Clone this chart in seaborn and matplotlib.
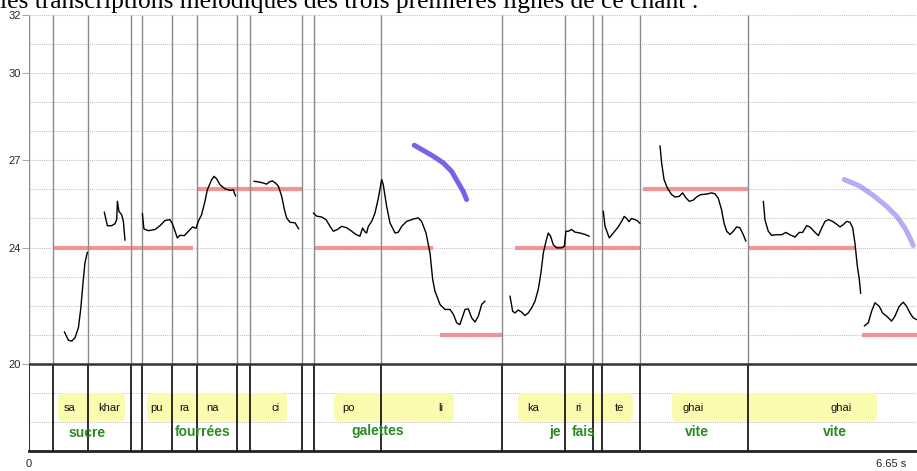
import numpy as np
import pandas as pd
import matplotlib
matplotlib.use("Agg")
import matplotlib.pyplot as plt
from matplotlib.patches import FancyBboxPatch
import seaborn as sns

# ---------------- data ----------------
title_text = "les transcriptions mélodiques des trois premières lignes de ce chant :"

# segment boundaries (s)
boundaries = [0.182, 0.444, 0.762, 0.844, 1.074, 1.256, 1.556, 1.658, 2.045,
              2.137, 2.637, 3.546, 4.015, 4.222, 4.295, 4.577, 5.383]

# target (transcribed) notes: start, end, pitch
target_start = [0.182, 1.258, 2.142, 3.079, 3.640, 4.600, 5.386, 6.240]
target_end   = [1.228, 2.045, 3.026, 3.546, 4.577, 5.386, 6.195, 6.652]
target_pitch = [24, 26, 24, 21, 24, 26, 24, 21]

# pitch contours (time s, pitch semitones)
c1_t = [0.265, 0.295, 0.320, 0.345, 0.370, 0.387, 0.407, 0.419, 0.437]
c1_v = [21.10, 20.81, 20.78, 20.90, 21.24, 21.87, 22.90, 23.47, 23.84]

c2_t = [0.564, 0.587, 0.619, 0.644, 0.657, 0.662, 0.674, 0.694, 0.707, 0.719]
c2_v = [25.22, 24.75, 24.75, 24.82, 24.96, 25.59, 25.24, 25.13, 24.90, 24.25]

c3_t = [0.849, 0.861, 0.894, 0.944, 0.981, 1.019, 1.056, 1.074, 1.094, 1.111,
        1.131, 1.164, 1.194, 1.226, 1.251, 1.268, 1.293, 1.318, 1.336, 1.368,
        1.386, 1.406, 1.431, 1.468, 1.506, 1.531, 1.538, 1.548]
c3_v = [25.17, 24.64, 24.58, 24.62, 24.75, 24.93, 24.96, 24.82, 24.56, 24.33,
        24.42, 24.41, 24.56, 24.71, 24.66, 24.90, 25.13, 25.59, 25.99, 26.33,
        26.45, 26.36, 26.16, 26.02, 25.97, 25.99, 25.88, 25.77]

c4_t = [1.685, 1.718, 1.755, 1.780, 1.805, 1.825, 1.850, 1.868, 1.893, 1.913,
        1.930, 1.955, 1.993, 2.005, 2.020]
c4_v = [26.28, 26.26, 26.22, 26.18, 26.27, 26.29, 26.20, 26.11, 25.76, 25.31,
        25.02, 24.87, 24.85, 24.76, 24.64]

c5_t = [2.130, 2.155, 2.192, 2.225, 2.255, 2.280, 2.310, 2.342, 2.380, 2.417,
        2.449, 2.479, 2.499, 2.517, 2.529, 2.542, 2.567, 2.592, 2.617, 2.642,
        2.654, 2.679, 2.704, 2.742, 2.767, 2.792, 2.829, 2.879, 2.916, 2.941,
        2.974, 3.004, 3.024, 3.041, 3.079, 3.116, 3.154, 3.179, 3.204, 3.228,
        3.266, 3.291, 3.316, 3.341, 3.366, 3.391, 3.416]
c5_v = [25.19, 25.08, 25.05, 24.96, 24.73, 24.56, 24.62, 24.73, 24.68, 24.56,
        24.45, 24.39, 24.67, 24.54, 24.50, 24.73, 24.90, 25.19, 25.70, 26.34,
        26.16, 25.42, 24.85, 24.50, 24.53, 24.73, 24.90, 24.98, 25.02, 24.90,
        24.50, 23.81, 22.90, 22.50, 22.04, 21.87, 21.87, 21.70, 21.41, 21.35,
        21.87, 21.89, 21.58, 21.44, 21.64, 22.04, 22.16]

c6_t = [3.603, 3.623, 3.640, 3.665, 3.690, 3.715, 3.740, 3.765, 3.790, 3.815,
        3.835, 3.853, 3.873, 3.890, 3.907, 3.927, 3.952, 3.990, 4.010, 4.022,
        4.040, 4.065, 4.090, 4.127, 4.165, 4.197]
c6_v = [22.33, 21.81, 21.75, 21.85, 21.78, 21.66, 21.75, 21.92, 22.15, 22.56,
        23.13, 23.82, 24.22, 24.50, 24.39, 24.10, 23.99, 23.99, 24.04, 24.56,
        24.56, 24.62, 24.53, 24.50, 24.45, 24.39]

c7_t = [4.302, 4.315, 4.347, 4.377, 4.414, 4.439, 4.459, 4.477, 4.494, 4.514,
        4.539, 4.557, 4.577]
c7_v = [25.25, 24.73, 24.33, 24.50, 24.71, 24.90, 25.07, 25.00, 24.89, 25.00,
        24.96, 24.92, 24.83]

c8_t = [4.727, 4.739, 4.757, 4.782, 4.814, 4.839, 4.871, 4.896, 4.921, 4.946,
        4.976, 5.001, 5.031, 5.076, 5.113, 5.138, 5.163, 5.188, 5.206, 5.226,
        5.251, 5.276, 5.301, 5.325, 5.350, 5.370]
c8_v = [27.50, 26.91, 26.34, 26.05, 25.82, 25.74, 25.76, 25.88, 25.71, 25.59,
        25.63, 25.74, 25.82, 25.84, 25.88, 25.85, 25.70, 25.30, 24.85, 24.56,
        24.45, 24.56, 24.71, 24.68, 24.45, 24.22]

c9_t = [5.501, 5.513, 5.538, 5.563, 5.596, 5.638, 5.670, 5.700, 5.738, 5.770,
        5.795, 5.825, 5.850, 5.880, 5.913, 5.938, 5.963, 5.988, 6.020, 6.045,
        6.075, 6.100, 6.125, 6.150, 6.170, 6.187, 6.205, 6.220, 6.230]
c9_v = [25.59, 24.96, 24.56, 24.42, 24.44, 24.44, 24.52, 24.44, 24.36, 24.52,
        24.52, 24.75, 24.71, 24.56, 24.41, 24.67, 24.90, 24.96, 24.90, 24.82,
        24.71, 24.79, 24.90, 24.87, 24.68, 24.16, 23.36, 22.90, 22.42]

c10_t = [6.257, 6.287, 6.312, 6.337, 6.369, 6.394, 6.424, 6.462, 6.487, 6.519,
         6.549, 6.574, 6.599, 6.624, 6.649]
c10_v = [21.30, 21.41, 21.81, 22.10, 21.98, 21.75, 21.64, 21.47, 21.64, 21.98,
         22.12, 21.98, 21.75, 21.58, 21.52]

# descending glide annotations (blue arcs)
arc1_t = [2.886, 2.954, 3.029, 3.104, 3.166, 3.216, 3.253, 3.278]
arc1_v = [27.52, 27.34, 27.14, 26.91, 26.62, 26.22, 25.93, 25.65]
arc2_t = [6.107, 6.225, 6.325, 6.424, 6.499, 6.562, 6.599, 6.624]
arc2_v = [26.34, 26.11, 25.79, 25.42, 25.08, 24.67, 24.33, 24.07]

# syllable boxes (start, end) and syllables
box_start = [0.217, 0.884, 2.285, 3.663, 4.816]
box_end   = [0.719, 1.933, 3.184, 4.524, 6.352]
syllables   = ["sa", "khar", "pu", "ra", "na", "ci", "po", "li", "ka", "ri", "te", "ghai", "ghai"]
syllable_t  = [0.307, 0.599, 0.959, 1.161, 1.378, 1.850, 2.390, 3.086, 3.775, 4.112, 4.427, 4.974, 6.082]

# French translations
words   = ["sucre", "fourrées", "galettes", "je", "fais", "vite", "vite"]
words_t = [0.434, 1.303, 2.614, 3.940, 4.157, 5.004, 6.037]
words_y = [17.62, 17.66, 17.70, 17.64, 17.64, 17.64, 17.64]

y_ticks = [20, 24, 27, 30, 32]
t_end = 6.652

# ---------------- build frames ----------------
contours = [(c1_t, c1_v), (c2_t, c2_v), (c3_t, c3_v), (c4_t, c4_v), (c5_t, c5_v),
            (c6_t, c6_v), (c7_t, c7_v), (c8_t, c8_v), (c9_t, c9_v), (c10_t, c10_v)]
rows = []
for i, (tt, vv) in enumerate(contours):
    for a, b in zip(tt, vv):
        rows.append({"seg": i, "t": a, "pitch": b})
df = pd.DataFrame(rows)

arc1 = pd.DataFrame({"t": arc1_t, "pitch": arc1_v})
arc2 = pd.DataFrame({"t": arc2_t, "pitch": arc2_v})

# ---------------- plot ----------------
sns.set_style("white")
plt.rcParams["font.family"] = ["Liberation Sans", "DejaVu Sans"]

W, H = 917, 471
fig = plt.figure(figsize=(W / 100, H / 100), dpi=100)
ax = fig.add_axes([29 / W, 20 / H, (W - 29) / W, 436 / H])
ax.set_xlim(0, t_end)
ax.set_ylim(17, 32)

# horizontal dotted grid
ax.hlines(np.arange(17, 33), 0, t_end, colors="#c2c2c2", linestyles=(0, (1.0, 1.0)),
          linewidth=0.75, zorder=1)

# target notes
ax.hlines(target_pitch, target_start, target_end, colors="#f08484", linewidth=3.0,
          alpha=0.85, zorder=2)

# boundaries
ax.vlines([0] + boundaries, 20, 32, colors="#8a8a8a", linewidth=1.0, zorder=3)
ax.vlines([0] + boundaries, 17, 20, colors="#1a1a1a", linewidth=1.3, zorder=3)
ax.axhline(20, color="#333333", linewidth=1.8, zorder=4)

# syllable boxes
for s, e in zip(box_start, box_end):
    p = FancyBboxPatch((s, 18.0), e - s, 1.0,
                       boxstyle="round,pad=0,rounding_size=0.045",
                       mutation_aspect=133.5 / 29.08,
                       facecolor="#fbfbb0", edgecolor="none", zorder=2)
    ax.add_patch(p)

for s, t in zip(syllables, syllable_t):
    ax.text(t, 18.49, s, ha="center", va="center", fontsize=8, color="#111111", zorder=5)
for w, t, yv in zip(words, words_t, words_y):
    ax.text(t, yv, w, ha="center", va="center", fontsize=10, fontweight="bold",
            color="#2a8a22", zorder=5)

# pitch contours
sns.lineplot(data=df, x="t", y="pitch", units="seg", estimator=None, sort=False,
             color="black", linewidth=1.0, ax=ax, zorder=6, legend=False)
sns.lineplot(data=arc1, x="t", y="pitch", estimator=None, sort=False,
             color="#7563ec", linewidth=3.6, ax=ax, zorder=6, legend=False,
             solid_capstyle="round")
sns.lineplot(data=arc2, x="t", y="pitch", estimator=None, sort=False,
             color="#7b68ee", alpha=0.55, linewidth=3.6, ax=ax, zorder=6, legend=False,
             solid_capstyle="round")

# axes styling
for side in ["top", "right"]:
    ax.spines[side].set_visible(False)
ax.spines["left"].set_visible(False)
ax.spines["bottom"].set_color("#222222")
ax.spines["bottom"].set_linewidth(2.0)

ax.set_yticks(y_ticks)
ax.set_yticklabels([str(v) for v in y_ticks])
ax.tick_params(axis="y", length=5, width=0.8, color="#aaaaaa", labelsize=8,
               pad=1, left=True)
ax.set_xticks([0])
ax.set_xticklabels(["0"])
ax.tick_params(axis="x", length=0, labelsize=8, pad=6)
ax.set_xlabel("")
ax.set_ylabel("")

fig.text(876 / W, 1 - 464 / H, "6.65 s", ha="left", va="center", fontsize=8)

# cut-off text line above the chart
fig.text(0.0, 1 - 8 / H, title_text, family=["Liberation Serif", "DejaVu Serif"],
         fontsize=18.4, ha="left", va="baseline", color="black")

fig.savefig("out.png", dpi=100)
